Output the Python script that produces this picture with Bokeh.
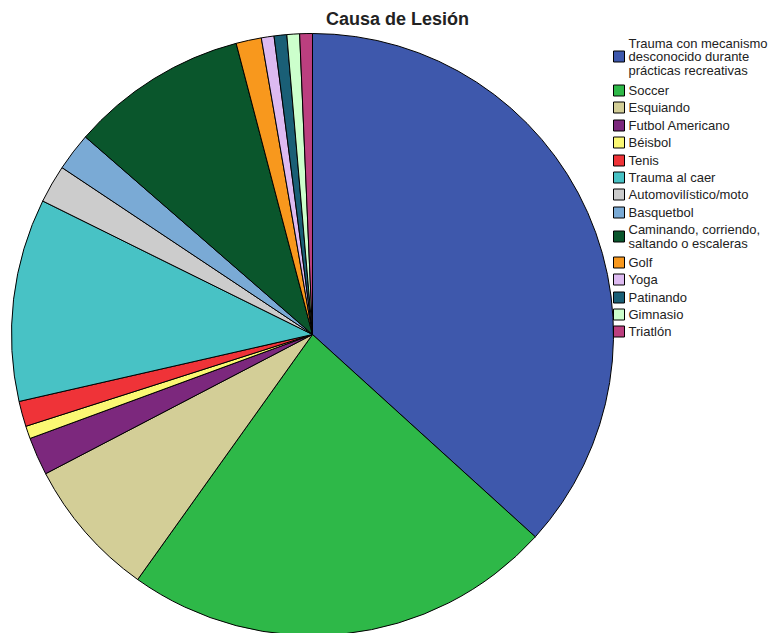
import numpy as np
from bokeh.plotting import figure
from bokeh.models import Range1d, ColumnDataSource
from bokeh.core.properties import value
from bokeh.embed import file_html
from bokeh.resources import INLINE

categories = [
    "Trauma con mecanismo\ndesconocido durante\nprácticas recreativas",
    "Soccer", "Esquiando", "Futbol Americano", "Béisbol", "Tenis",
    "Trauma al caer", "Automovilístico/moto", "Basquetbol",
    "Caminando, corriendo,\nsaltando o escaleras",
    "Golf", "Yoga", "Patinando", "Gimnasio", "Triatlón",
]
counts = [54, 34, 11, 3, 1, 2, 16, 3, 3, 14, 2, 1, 1, 1, 1]
colors = ["#3E58AC", "#2EB848", "#D3CE97", "#7C287D", "#FBF873", "#EF3338",
          "#48C2C5", "#CCCCCC", "#7AAAD5", "#0A562C", "#F8981D", "#DDBAF1",
          "#1A5F76", "#CCFFCC", "#BB3F7F"]
title = "Causa de Lesión"

W, H = 780, 633
p = figure(width=W, height=H, output_backend="svg", toolbar_location=None,
           x_range=Range1d(0, W), y_range=Range1d(0, H), min_border=0)
p.axis.visible = False
p.grid.visible = False
p.outline_line_color = None
p.background_fill_color = "white"

cx, cy, r = 312, H - 334, 301
vals = np.array(counts, dtype=float)
frac = vals / vals.sum()
cum = np.concatenate([[0], np.cumsum(frac)]) * 2 * np.pi
start = np.pi / 2 - cum[1:]
end = np.pi / 2 - cum[:-1]
src = ColumnDataSource(dict(start=start, end=end, color=colors))
p.wedge(x=cx, y=cy, radius=r, start_angle="start", end_angle="end",
        fill_color="color", line_color="black", line_width=1, source=src)

p.text(x=[397], y=[H - 18], text=[title], text_font=value("Liberation Sans"),
       text_font_style="bold", text_font_size="18px", text_align="center",
       text_baseline="middle", text_color="#222222")

# legend
lx, line_h = 613, 13.5
ys = [56, 90, 107, 125, 142, 160, 177, 194, 212, 236, 262, 279, 297, 314, 331]
sq = 11
p.rect(x=[lx + sq / 2] * len(ys), y=[H - y for y in ys], width=sq, height=sq,
       fill_color=colors, line_color="black", line_width=1)
tx, ty, tt = [], [], []
for lab, y in zip(categories, ys):
    lines = lab.split("\n")
    n = len(lines)
    for i, ln in enumerate(lines):
        tx.append(lx + sq + 4)
        ty.append(H - (y + (i - (n - 1) / 2) * line_h))
        tt.append(ln)
p.text(x=tx, y=ty, text=tt, text_font=value("Liberation Sans"),
       text_font_size="13px", text_baseline="middle", text_color="#222222")

open("out.html", "w").write(file_html(p, INLINE))
